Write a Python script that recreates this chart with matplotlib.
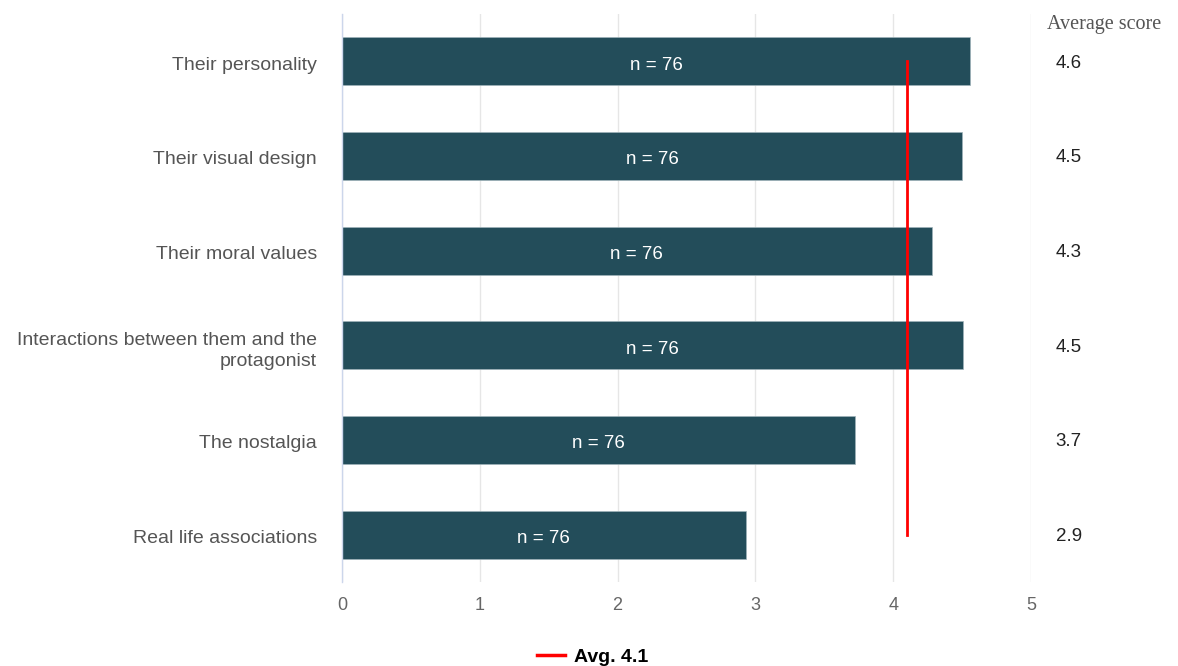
import matplotlib.pyplot as plt
import matplotlib.transforms as mtransforms
from matplotlib.lines import Line2D

categories = ["Their personality", "Their visual design", "Their moral values",
              "Interactions between them and the\nprotagonist", "The nostalgia",
              "Real life associations"]
scores = [4.56, 4.5, 4.28, 4.51, 3.72, 2.93]
counts = [76, 76, 76, 76, 76, 76]
avg = 4.1

plt.rcParams['font.family'] = ['Liberation Sans', 'DejaVu Sans']

fig = plt.figure(figsize=(11.78, 6.66), dpi=100)
ax = fig.add_axes([342 / 1178, 1 - 582 / 666, (1031 - 342) / 1178, (582 - 14) / 666])

y = list(range(len(categories)))
ax.barh(y, scores, height=0.51, color='#234d5a', edgecolor='#9fb3b9', linewidth=0.5, zorder=2)

for yi, s, n in zip(y, scores, counts):
    ax.text(s / 2, yi + 0.04, f"n = {n}", color='white', fontsize=13.5,
            ha='center', va='center', zorder=4)
    ax.text(5.18, yi + 0.02, f"{s:.1f}", color='#222222', fontsize=13.5,
            ha='left', va='center', clip_on=False)

ax.plot([avg, avg], [y[0], y[-1]], color='#ff0000', linewidth=2, zorder=3)

ax.set_xlim(0, 5)
ax.set_ylim(len(categories) - 0.5, -0.5)
ax.set_xticks(range(6))
ax.set_yticks(y)
ax.set_yticklabels(categories, ha='right', multialignment='right', linespacing=1.3)
ax.tick_params(axis='x', length=0, pad=11, labelsize=13, labelcolor='#666666')
ax.tick_params(axis='y', length=0, pad=18, labelsize=14, labelcolor='#555555')
# nudge category labels slightly below the bar centres
shift = mtransforms.ScaledTranslation(0, -0.02, fig.dpi_scale_trans)
for lbl in ax.get_yticklabels():
    lbl.set_transform(lbl.get_transform() + shift)
ax.grid(axis='x', color='#e6e6e6', linewidth=1, zorder=0)
ax.set_axisbelow(True)
for side in ['top', 'right', 'bottom']:
    ax.spines[side].set_visible(False)
ax.spines['left'].set_color('#ccd6eb')
ax.spines['left'].set_linewidth(1)

fig.text(1047 / 1178, 1 - 24 / 666, "Average score", family='Liberation Serif',
         fontsize=14.5, color='#555555', ha='left', va='center')

handle = Line2D([], [], color='#ff0000', linewidth=2.5)
fig.legend([handle], ["Avg. 4.1"], loc='center', bbox_to_anchor=(593 / 1178, 1 - 657 / 666),
           frameon=False, handlelength=1.4, handletextpad=0.5,
           prop={'weight': 'bold', 'size': 14})

fig.savefig("out.png", dpi=100)
